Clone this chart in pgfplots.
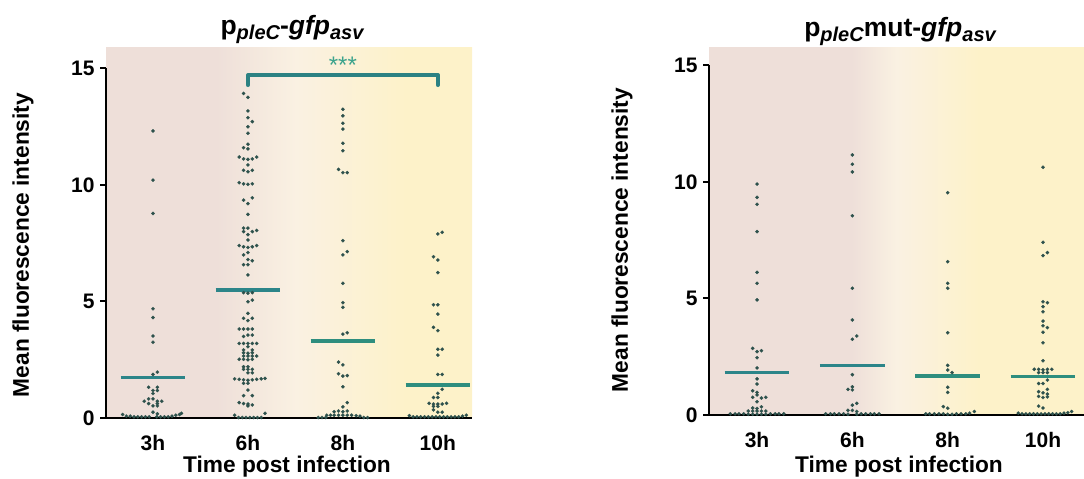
\documentclass[border=0pt]{standalone}
\usepackage{pgfplots}
\pgfplotsset{compat=1.18}
\usepackage{pgfplotstable}
\usepackage{fontspec}
\setmainfont{Liberation Sans}
\definecolor{pinkc}{HTML}{EEDFD9}
\definecolor{creamc}{HTML}{FAF1E2}
\definecolor{yellowc}{HTML}{FDF2C9}
\definecolor{dotc}{HTML}{2D514C}
\definecolor{meanA}{HTML}{2C8589}
\definecolor{meanB}{HTML}{2E8E7E}
\definecolor{brc}{HTML}{2C8283}
\definecolor{starc}{HTML}{3BA38C}
\pgfdeclarehorizontalshading{bgL}{100bp}{color(0bp)=(pinkc); color(25bp)=(pinkc); color(40bp)=(pinkc); color(51bp)=(creamc); color(66bp)=(yellowc); color(100bp)=(yellowc)}
\pgfdeclarehorizontalshading{bgR}{100bp}{color(0bp)=(pinkc); color(25bp)=(pinkc); color(44bp)=(pinkc); color(50bp)=(creamc); color(61bp)=(yellowc); color(100bp)=(yellowc)}

% left panel
\pgfplotstableread{
dx y
0 12.32
0 10.21
0 8.78
0 4.69
0 4.31
0 3.52
0 3.25
0 1.87
0.046 1.97
-0.046 1.32
0.046 1.32
0 1.18
0.046 1.18
0 1.05
-0.046 0.82
0 0.82
-0.092 0.72
0.046 0.72
0.092 0.72
-0.046 0.62
0.046 0.62
0 0.52
0.046 0.52
0 0.25
0.046 0.18
-0.32 0.15
-0.28 0.08
-0.24 0.08
-0.2 0.05
-0.16 0.05
-0.12 0.05
-0.08 0.05
-0.04 0.05
0.04 0.05
0.08 0.05
0.12 0.05
0.16 0.05
0.2 0.08
0.24 0.12
0.28 0.15
0.3 0.2
}\tLa
\pgfplotstableread{
dx y
-0.046 13.93
0 13.76
0 13.18
0 12.89
0.046 12.72
0 12.5
0 12.22
0 11.75
-0.046 11.6
0 11.55
-0.092 11.2
-0.046 11.12
0 11.1
0.046 11.12
0.092 11.2
0 10.86
-0.046 10.63
0 10.57
0.046 10.63
-0.092 10.1
-0.046 10.05
0 10.03
0.046 10.05
0.046 9.45
-0.046 9.35
0 9.2
0 8.74
-0.046 8.15
0 8.15
0.092 8.05
-0.046 8.0
0.046 8.0
0 7.87
0 7.64
-0.092 7.4
-0.046 7.35
0 7.32
0.046 7.35
0.092 7.4
0 7.1
-0.046 7.0
0 6.8
0.046 6.75
-0.046 6.58
0 6.58
0 6.14
-0.046 5.38
0 5.36
0.046 5.38
0.046 5.06
0 4.99
0 4.49
-0.046 4.28
0.046 4.28
0 4.18
-0.092 3.82
-0.046 3.82
0 3.82
0.046 3.82
0 3.56
0.046 3.56
-0.046 3.5
-0.092 3.2
-0.046 3.2
0 3.2
0.046 3.2
0.092 3.2
0 3.06
-0.046 2.92
0.046 2.92
-0.046 2.8
0 2.78
0.046 2.8
-0.046 2.66
0 2.66
0.046 2.66
0.092 2.66
-0.092 2.52
-0.046 2.52
0 2.5
0.046 2.52
-0.046 2.2
0 2.2
-0.046 2.09
0 2.09
0.046 2.09
0 1.94
0.046 1.94
-0.14 1.68
-0.092 1.66
-0.046 1.64
0 1.62
0.046 1.64
0.092 1.66
0.14 1.68
0.18 1.7
-0.046 1.49
0 1.49
0 1.2
-0.046 0.96
0.046 0.96
-0.092 0.66
-0.046 0.62
0 0.6
0 0.52
0.046 0.56
-0.14 0.12
0.18 0.2
-0.1 0.02
-0.06 0.02
-0.02 0.02
0.02 0.02
0.06 0.02
0.1 0.02
0.14 0.02
}\tLb
\pgfplotstableread{
dx y
0 13.25
0 12.97
0 12.65
0 12.4
0 11.79
0 11.47
-0.046 10.67
0 10.53
0.046 10.53
0 7.61
0.046 7.14
0 7.0
0 5.78
0 4.95
0 4.75
0.046 3.66
0 3.6
-0.046 2.4
0 2.28
-0.046 1.9
0 1.8
0.046 1.82
0 1.34
0.046 0.66
0 0.48
-0.092 0.27
-0.046 0.3
0 0.27
0.046 0.3
-0.17 0.12
-0.13 0.12
-0.092 0.12
-0.046 0.12
0 0.12
0.046 0.12
0.092 0.12
0.14 0.1
0.18 0.08
-0.26 0.02
-0.22 0.02
-0.18 0.02
0.22 0.02
0.26 0.02
}\tLc
\pgfplotstableread{
dx y
0 7.9
0.046 7.97
-0.046 6.92
0 6.78
0 6.24
-0.046 4.86
0 4.86
0 4.46
-0.046 3.89
0 3.75
0 2.95
0.046 2.95
0 2.7
0 1.87
0.046 1.87
0.046 1.23
0 1.06
-0.046 0.88
0 0.88
-0.092 0.63
-0.046 0.6
0 0.6
0.046 0.6
0.092 0.63
-0.046 0.5
0 0.5
-0.046 0.35
0 0.25
0.046 0.25
-0.3 0.1
-0.26 0.05
-0.22 0.05
-0.18 0.05
-0.14 0.05
-0.1 0.05
-0.06 0.05
-0.02 0.05
0.02 0.05
0.06 0.05
0.1 0.05
0.14 0.05
0.18 0.05
0.22 0.05
0.26 0.08
0.3 0.12
}\tLd
% right panel
\pgfplotstableread{
dx y
0 9.91
0 9.34
0 9.04
0 7.87
0 6.12
0 5.65
0 4.94
-0.046 2.86
0 2.72
0.046 2.76
0 2.46
0 2.02
0 1.55
0 1.33
-0.046 1.04
0 0.97
0 0.86
-0.046 0.76
0.046 0.73
0.092 0.76
0 0.57
-0.046 0.3
0 0.28
0.046 0.35
-0.092 0.17
-0.046 0.17
0 0.17
0.046 0.17
0.092 0.17
-0.28 0.05
-0.23 0.05
-0.19 0.05
-0.14 0.05
-0.092 0.03
-0.046 0.03
0 0.03
0.046 0.03
0.092 0.03
0.14 0.05
0.19 0.05
0.23 0.05
0.28 0.05
}\tRa
\pgfplotstableread{
dx y
0 11.16
0 10.76
0 10.43
0 8.55
0 5.44
0 4.08
0.046 3.39
0 3.25
0 1.73
0 1.21
-0.046 1.1
0 1.08
0.046 0.5
0 0.42
-0.046 0.2
0 0.2
0.046 0.15
-0.28 0.05
-0.23 0.05
-0.19 0.05
-0.14 0.05
-0.092 0.05
-0.046 0.03
0.046 0.03
0.092 0.05
0.14 0.05
0.19 0.05
0.23 0.05
0.28 0.05
}\tRb
\pgfplotstableread{
dx y
0 9.54
0 6.58
0 5.65
0 5.44
0 3.53
0 2.13
0 1.93
0.046 1.82
0 1.19
0 0.97
-0.046 0.36
0 0.29
-0.23 0.05
-0.19 0.05
-0.14 0.05
-0.092 0.05
-0.046 0.05
0 0.03
0.046 0.03
0.092 0.05
0.14 0.05
0.19 0.05
0.23 0.08
0.28 0.15
}\tRc
\pgfplotstableread{
dx y
0 10.63
0 7.41
0.046 6.97
0 6.84
0 4.86
0.046 4.82
0 4.65
0 4.43
0 4.03
0 3.83
0.046 3.75
0 3.55
0 3.1
0 2.33
-0.092 1.96
-0.046 1.96
0 1.94
0.046 1.96
0.092 1.96
-0.046 1.82
0 1.82
0.046 1.82
0.046 1.5
-0.046 1.35
0 1.35
0.046 1.1
-0.046 1.0
0 0.95
0.046 0.9
-0.046 0.8
0 0.75
0.046 0.78
-0.046 0.38
0 0.3
-0.26 0.08
-0.22 0.05
-0.18 0.05
-0.14 0.05
-0.1 0.05
-0.06 0.05
-0.02 0.05
0.02 0.05
0.06 0.05
0.1 0.05
0.14 0.05
0.18 0.05
0.22 0.08
0.26 0.1
0.3 0.15
}\tRd

\pgfplotsset{
  panel/.style={
    scale only axis, anchor=south west, clip=false,
    ymin=0,
    axis line style={draw=none},
    xtick={0,1,2,3}, xticklabels={3h,6h,8h,10h},
    ytick={0,5,10,15}, yticklabels={0,5,10,15},
    x tick style={draw=none},
    y tick style={line width=2pt, black},
    tick align=outside, major tick length=6pt,
    xtick pos=bottom, ytick pos=left,
    tick label style={font=\fontsize{21}{21}\selectfont\bfseries},
    /pgf/number format/assume math mode=true,
    xticklabel style={anchor=base, yshift=-26pt},
    yticklabel style={anchor=east, xshift=-2pt},
  },
  dots/.style={only marks, mark=*, mark size=1.7pt, color=dotc, mark options={draw=dotc, fill=dotc, line width=0.2pt}},
}

\begin{document}
\begin{tikzpicture}[x=1pt,y=1pt]
\useasboundingbox (0,0) rectangle (1084,479);
% ---------- left panel ----------
\begin{axis}[panel, at={(106pt,61pt)}, width=366pt, height=370pt,
  xmin=-0.495, xmax=3.36, ymax=15.88]
\shade[shading=bgL] (rel axis cs:0,0) rectangle (rel axis cs:1,1);
\draw[line width=2.5pt, black] (axis cs:-0.495,15) -- (axis cs:-0.495,0) -- (axis cs:3.36,0);
\addplot[dots] table[x expr=\thisrow{dx}+0, y=y] {\tLa};
\addplot[dots] table[x expr=\thisrow{dx}+1, y=y] {\tLb};
\addplot[dots] table[x expr=\thisrow{dx}+2, y=y] {\tLc};
\addplot[dots] table[x expr=\thisrow{dx}+3, y=y] {\tLd};
\addplot[meanA, line width=3.4pt] coordinates {(-0.34,1.73) (0.34,1.73)};
\addplot[meanA, line width=3.4pt] coordinates {(0.66,5.49) (1.34,5.49)};
\addplot[meanB, line width=3.4pt] coordinates {(1.66,3.3) (2.34,3.3)};
\addplot[meanB, line width=3.4pt] coordinates {(2.66,1.42) (3.34,1.42)};
\addplot[brc, line width=4pt, line cap=round, line join=round] coordinates {(1,14.29) (1,14.72) (3,14.72) (3,14.29)};
\node[starc, anchor=base, font=\fontsize{24}{24}\selectfont] at (axis cs:2,14.8) {***};
\end{axis}
% ---------- right panel ----------
\begin{axis}[panel, at={(709pt,64pt)}, width=375pt, height=367pt,
  xmin=-0.504, xmax=3.43, ymax=15.75]
\shade[shading=bgR] (rel axis cs:0,0) rectangle (rel axis cs:1,1);
\draw[line width=2.5pt, black] (axis cs:-0.504,15) -- (axis cs:-0.504,0) -- (axis cs:3.43,0);
\addplot[dots] table[x expr=\thisrow{dx}+0, y=y] {\tRa};
\addplot[dots] table[x expr=\thisrow{dx}+1, y=y] {\tRb};
\addplot[dots] table[x expr=\thisrow{dx}+2, y=y] {\tRc};
\addplot[dots] table[x expr=\thisrow{dx}+3, y=y] {\tRd};
\addplot[meanA, line width=3.4pt] coordinates {(-0.34,1.83) (0.34,1.83)};
\addplot[meanA, line width=3.4pt] coordinates {(0.66,2.12) (1.34,2.12)};
\addplot[meanB, line width=3.4pt] coordinates {(1.66,1.67) (2.34,1.67)};
\addplot[meanB, line width=3.4pt] coordinates {(2.66,1.64) (3.34,1.64)};
\end{axis}
% ---------- titles and labels ----------
\node[anchor=base, font=\fontsize{26.5}{26.5}\selectfont\bfseries] at (292,444)
  {p\raisebox{-5pt}{\fontsize{20}{20}\selectfont\itshape pleC}-\textit{gfp}\raisebox{-5pt}{\fontsize{20}{20}\selectfont\itshape asv}};
\node[anchor=base, font=\fontsize{26.5}{26.5}\selectfont\bfseries] at (900,442)
  {p\raisebox{-5pt}{\fontsize{20}{20}\selectfont\itshape pleC}mut-\textit{gfp}\raisebox{-5pt}{\fontsize{20}{20}\selectfont\itshape asv}};
\node[rotate=90, font=\fontsize{22.7}{22.7}\selectfont\bfseries] at (23,234) {Mean fluorescence intensity};
\node[rotate=90, font=\fontsize{22.7}{22.7}\selectfont\bfseries] at (622,239) {Mean fluorescence intensity};
\node[anchor=base, font=\fontsize{22.7}{22.7}\selectfont\bfseries] at (287,6) {Time post infection};
\node[anchor=base, font=\fontsize{22.7}{22.7}\selectfont\bfseries] at (899,6) {Time post infection};
\end{tikzpicture}
\end{document}
